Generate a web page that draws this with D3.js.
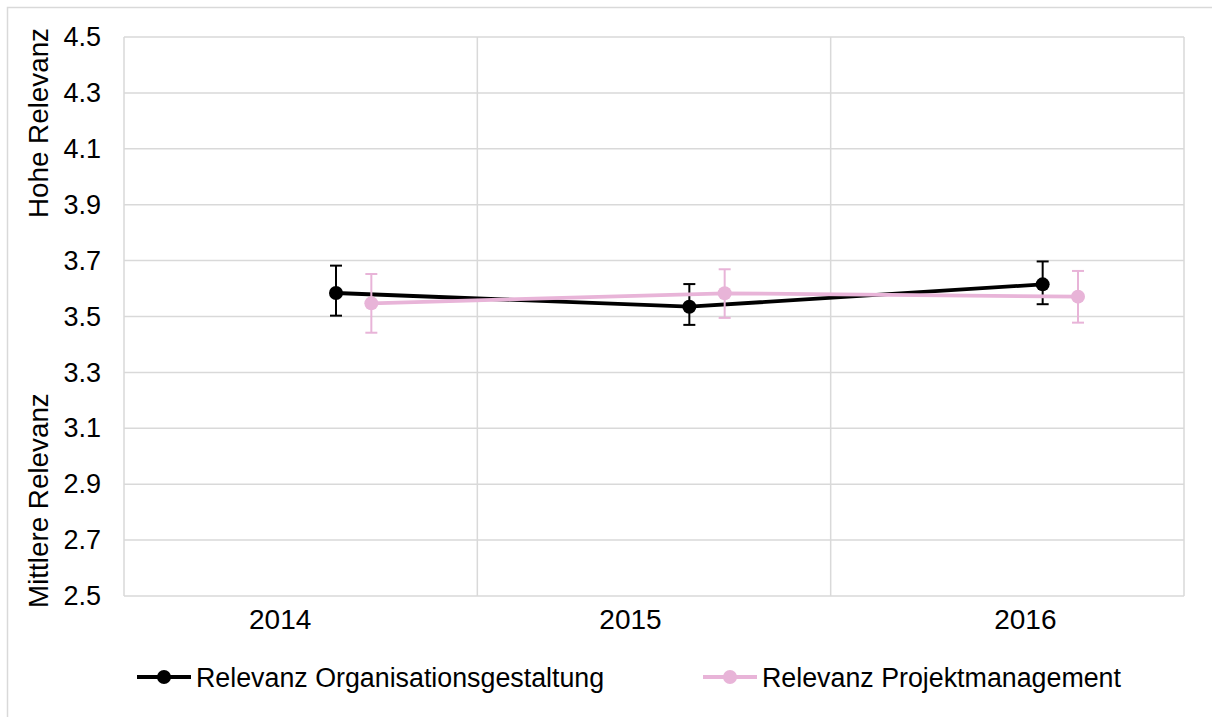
<!DOCTYPE html>
<html><head><meta charset="utf-8">
<script src="https://cdn.jsdelivr.net/npm/d3@7"></script>
<style>body{margin:0;background:#fff;}svg{display:block;font-family:"Liberation Sans",Arial,sans-serif;}</style>
</head><body>
<svg id="c" width="1212" height="717"></svg>
<script>
const categories = ["2014", "2015", "2016"];
const yTicks = [2.5, 2.7, 2.9, 3.1, 3.3, 3.5, 3.7, 3.9, 4.1, 4.3, 4.5];
const seriesNames = ["Relevanz Organisationsgestaltung", "Relevanz Projektmanagement"];
const orgValues = [3.584, 3.535, 3.615];
const orgUpper = [3.682, 3.616, 3.697];
const orgLower = [3.503, 3.470, 3.544];
const pmValues = [3.547, 3.583, 3.571];
const pmUpper = [3.652, 3.669, 3.663];
const pmLower = [3.442, 3.495, 3.478];
const axisTitles = ["Hohe Relevanz", "Mittlere Relevanz"];

const colors = ["#000000", "#E8B4D8"];
const offsets = [0.6, 0.7];
const labelShift = [-20.5, -23.5, 18];
const series = [
  {name: seriesNames[0], values: orgValues, upper: orgUpper, lower: orgLower},
  {name: seriesNames[1], values: pmValues, upper: pmUpper, lower: pmLower}
];

const svg = d3.select("#c");
const L = 124, R = 1184, T = 37, B = 596;
const x = d3.scaleBand().domain(categories).range([L, R]).paddingInner(0).paddingOuter(0);
const y = d3.scaleLinear().domain([2.5, 4.5]).range([B, T]);
const grid = "#d9d9d9";

// outer frame (clipped at right and bottom)
svg.append("path").attr("d", `M7.5,717V7.5H1212`).attr("fill","none").attr("stroke",grid).attr("stroke-width",1.5);

// horizontal gridlines
svg.append("g").selectAll("line").data(yTicks).join("line")
  .attr("x1", L).attr("x2", R).attr("y1", d => y(d)).attr("y2", d => y(d))
  .attr("stroke", grid).attr("stroke-width", 1.5);
// vertical gridlines at band boundaries
const bounds = categories.map(c => x(c)).concat([x(categories[categories.length-1]) + x.bandwidth()]);
svg.append("g").selectAll("line").data(bounds).join("line")
  .attr("x1", d => d).attr("x2", d => d).attr("y1", T).attr("y2", B)
  .attr("stroke", grid).attr("stroke-width", 1.5);

// y axis labels
const yAxis = d3.axisLeft(y).tickValues(yTicks).tickFormat(d3.format(".1f")).tickSize(0).tickPadding(23);
const yg = svg.append("g").attr("transform", `translate(${L},0)`).call(yAxis);
yg.select(".domain").remove();
yg.selectAll("text").attr("font-size", 27).attr("fill", "#000").attr("font-family", "Liberation Sans, Arial, sans-serif");

// x axis labels
const xAxis = d3.axisBottom(x).tickSize(0).tickPadding(13);
const xg = svg.append("g").attr("transform", `translate(0,${B})`).call(xAxis);
xg.select(".domain").remove();
xg.selectAll("text").attr("font-size", 28).attr("fill", "#000").attr("font-family", "Liberation Sans, Arial, sans-serif")
  .attr("dx", (d, k) => labelShift[k]);

// axis titles
svg.append("text").attr("transform", `translate(48,${T - 9}) rotate(-90)`).attr("text-anchor","end")
  .attr("font-size", 27.8).text(axisTitles[0]);
svg.append("text").attr("transform", `translate(48,${B + 12}) rotate(-90)`).attr("text-anchor","start")
  .attr("font-size", 27.8).text(axisTitles[1]);

// series
series.forEach((s, i) => {
  const px = d => x(categories[d]) + x.bandwidth() * offsets[i];
  const idx = categories.map((c, k) => k);
  const g = svg.append("g");
  // error bars
  const eb = g.append("g").attr("stroke", colors[i]).attr("stroke-width", 2);
  eb.selectAll("line.v").data(idx).join("line").attr("class","v")
    .attr("x1", px).attr("x2", px).attr("y1", k => y(s.upper[k])).attr("y2", k => y(s.lower[k]));
  eb.selectAll("line.t").data(idx).join("line").attr("class","t")
    .attr("x1", k => px(k) - 6).attr("x2", k => px(k) + 6).attr("y1", k => y(s.upper[k])).attr("y2", k => y(s.upper[k]));
  eb.selectAll("line.b").data(idx).join("line").attr("class","b")
    .attr("x1", k => px(k) - 6).attr("x2", k => px(k) + 6).attr("y1", k => y(s.lower[k])).attr("y2", k => y(s.lower[k]));
  const line = d3.line().x(px).y(k => y(s.values[k]));
  g.append("path").datum(idx).attr("d", line).attr("fill","none").attr("stroke", colors[i]).attr("stroke-width", 3.8).attr("stroke-linejoin","round").attr("stroke-linecap","round");
  g.selectAll("circle").data(idx).join("circle").attr("cx", px).attr("cy", k => y(s.values[k])).attr("r", 7).attr("fill", colors[i]);
});

// legend
const legendX = [137, 703];
const ly = 677;
series.forEach((s, i) => {
  const g = svg.append("g").attr("transform", `translate(${legendX[i]},${ly})`);
  g.append("line").attr("x1", 0).attr("x2", 54).attr("y1", 0).attr("y2", 0).attr("stroke", colors[i]).attr("stroke-width", 3.8);
  g.append("circle").attr("cx", 27).attr("cy", 0).attr("r", 7).attr("fill", colors[i]);
  g.append("text").attr("x", 59).attr("y", 9.5).attr("font-size", 26.8).attr("fill","#000").text(s.name);
});
</script>
</body></html>
